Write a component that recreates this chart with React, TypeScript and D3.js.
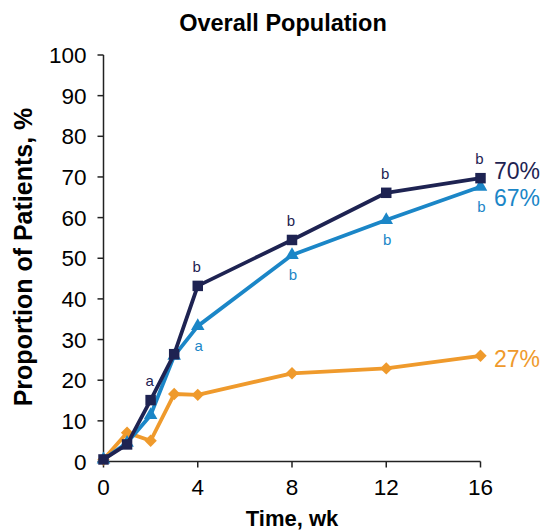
import React from "react";
import * as d3 from "d3";

const weeks = [0, 1, 2, 3, 4, 8, 12, 16];
const navyValues = [0.5, 4.2, 15.1, 26.4, 43.2, 54.5, 66.1, 69.7];
const blueValues = [0.5, 4.6, 11.4, 26.0, 33.3, 50.8, 59.4, 67.6];
const orangeValues = [0.5, 7.1, 5.1, 16.6, 16.4, 21.7, 22.9, 26.0];
const xTicks = [0, 4, 8, 12, 16];
const yTicks = [0, 10, 20, 30, 40, 50, 60, 70, 80, 90, 100];

// significance annotations: [week, letter]
const navyNotes: [number, string][] = [[2, "a"], [4, "b"], [8, "b"], [12, "b"], [16, "b"]];
const blueNotes: [number, string][] = [[4, "a"], [8, "b"], [12, "b"], [16, "b"]];

const endLabels = ["70%", "67%", "27%"];
const endLabelYs = [71.6, 64.8, 25.4];

const NAVY = "#1e2352";
const BLUE = "#1b86c7";
const ORANGE = "#ef9a2c";
const FONT = "'Liberation Sans', Arial, Helvetica, sans-serif";

export default function App() {
  const W = 546, H = 532;
  const x = d3.scaleLinear().domain([0, 16]).range([103.5, 480.5]);
  const y = d3.scaleLinear().domain([0, 100]).range([461.5, 55]);
  const line = d3.line<number>().x((_, i) => x(weeks[i])).y((v) => y(v));

  const square = d3.symbol().type(d3.symbolSquare).size(110)()!;
  const tri = d3.symbol().type(d3.symbolTriangle).size(80)()!;
  const diamond = (cx: number, cy: number) => {
    const r = 6.2;
    return `M${cx},${cy - r}L${cx + r},${cy}L${cx},${cy + r}L${cx - r},${cy}Z`;
  };

  const series = [
    { values: orangeValues, color: ORANGE, kind: "diamond" },
    { values: blueValues, color: BLUE, kind: "tri" },
    { values: navyValues, color: NAVY, kind: "square" },
  ];
  const endColors = [NAVY, BLUE, ORANGE];

  return (
    <svg width={W} height={H} style={{ position: "absolute", left: 0, top: 0, background: "#fff" }} fontFamily={FONT}>
      <text x={283} y={31} textAnchor="middle" fontSize={23.5} fontWeight="bold" fill="#000">
        Overall Population
      </text>
      {/* y axis */}
      <line x1={x(0)} x2={x(0)} y1={y(100)} y2={y(0)} stroke="#222" strokeWidth={1.5} />
      {yTicks.map((t) => (
        <g key={"y" + t}>
          <line x1={x(0) - 6} x2={x(0)} y1={y(t)} y2={y(t)} stroke="#222" strokeWidth={1.5} />
          <text x={x(0) - 17} y={y(t)} dy="0.36em" textAnchor="end" fontSize={22.5} fill="#000">
            {t}
          </text>
        </g>
      ))}
      {/* x axis */}
      <line x1={x(0)} x2={x(16)} y1={y(0)} y2={y(0)} stroke="#222" strokeWidth={1.5} />
      {xTicks.map((t) => (
        <g key={"x" + t}>
          <line x1={x(t)} x2={x(t)} y1={y(0)} y2={y(0) + 6} stroke="#222" strokeWidth={1.5} />
          <text x={x(t)} y={495} textAnchor="middle" fontSize={22.5} fill="#000">
            {t}
          </text>
        </g>
      ))}
      <text x={292} y={526} textAnchor="middle" fontSize={22} fontWeight="bold" fill="#000">
        Time, wk
      </text>
      <text
        transform={`translate(32,257) rotate(-90)`}
        textAnchor="middle"
        fontSize={25}
        fontWeight="bold"
        fill="#000"
      >
        Proportion of Patients, %
      </text>

      {series.map((s, si) => (
        <g key={"s" + si}>
          <path d={line(s.values)!} fill="none" stroke={s.color} strokeWidth={3.8} strokeLinejoin="round" />
          {s.values.map((v, i) => {
            const cx = x(weeks[i]), cy = y(v);
            if (s.kind === "diamond") return <path key={i} d={diamond(cx, cy)} fill={s.color} />;
            if (s.kind === "tri") return <path key={i} d={tri} transform={`translate(${cx},${cy})`} fill={s.color} />;
            return <path key={i} d={square} transform={`translate(${cx},${cy})`} fill={s.color} />;
          })}
        </g>
      ))}

      {navyNotes.map(([w, l], i) => (
        <text key={"nn" + i} x={x(w) - 1} y={y(navyValues[weeks.indexOf(w)]) - 14} textAnchor="middle" fontSize={15} fill={NAVY}>
          {l}
        </text>
      ))}
      {blueNotes.map(([w, l], i) => (
        <text key={"bn" + i} x={x(w) + 1} y={y(blueValues[weeks.indexOf(w)]) + 25} textAnchor="middle" fontSize={15} fill={BLUE}>
          {l}
        </text>
      ))}

      {endLabels.map((l, i) => (
        <text key={"el" + i} x={494} y={y(endLabelYs[i])} dy="0.36em" fontSize={23} fill={endColors[i]}>
          {l}
        </text>
      ))}
    </svg>
  );
}
